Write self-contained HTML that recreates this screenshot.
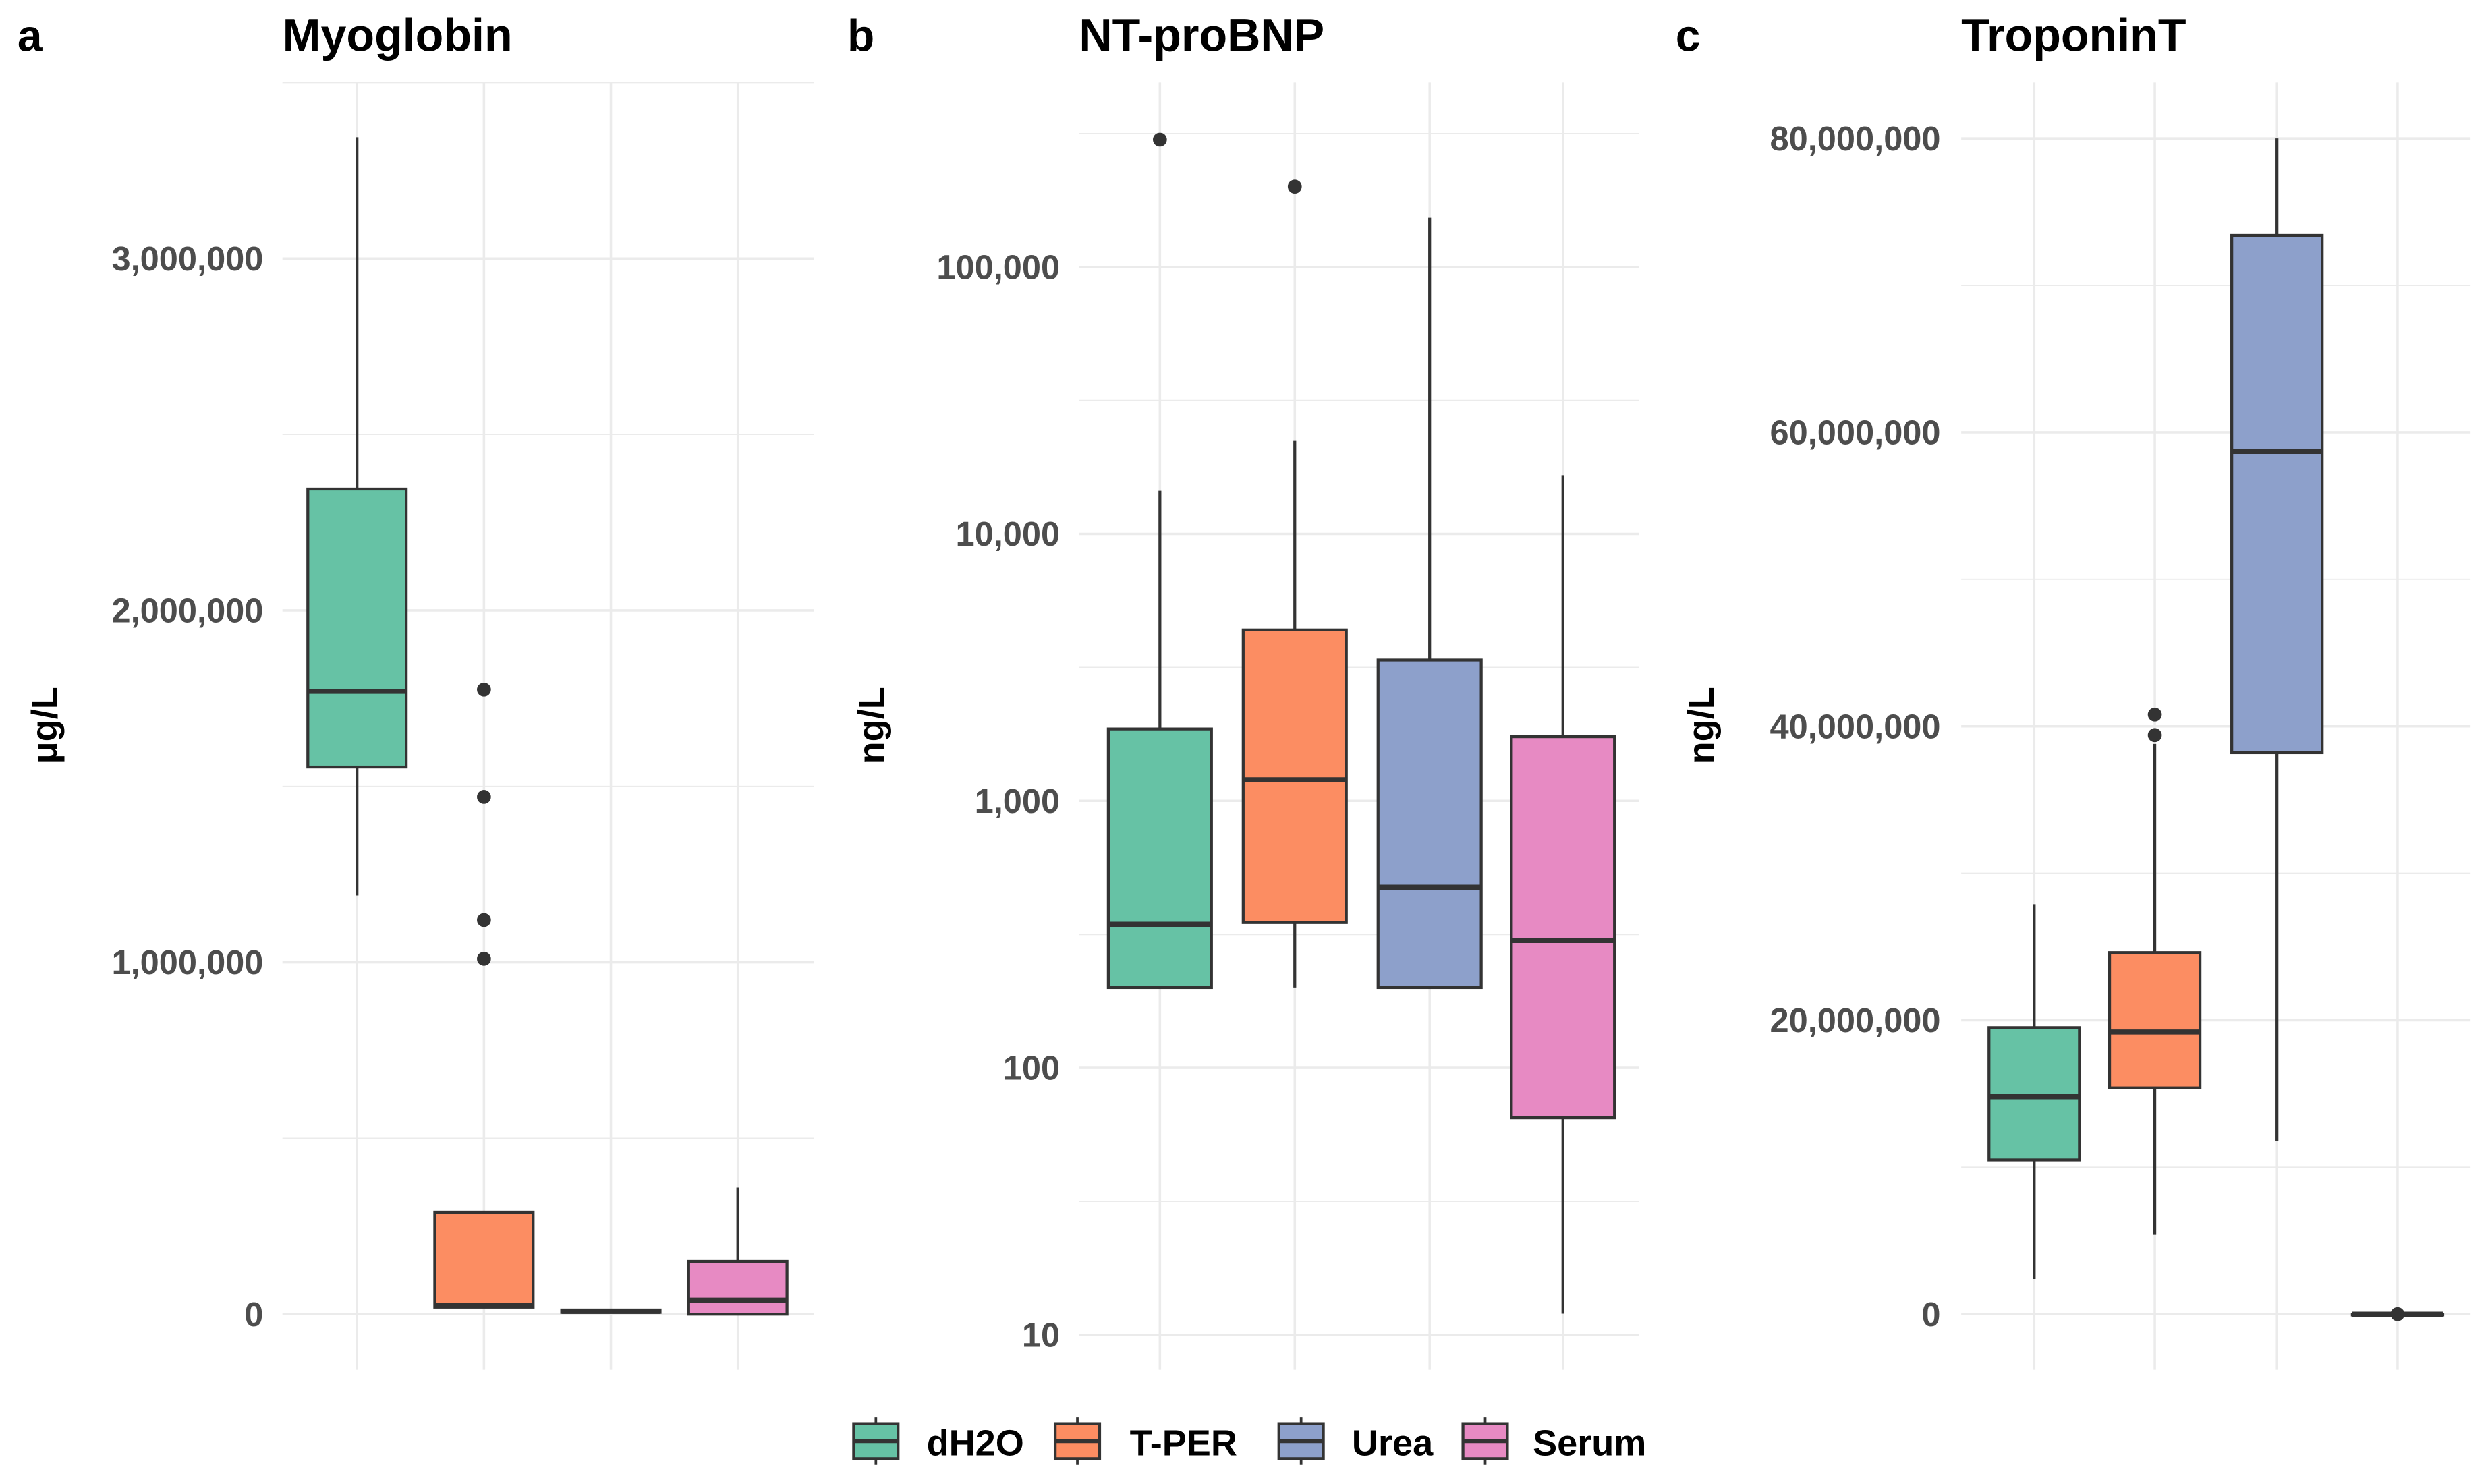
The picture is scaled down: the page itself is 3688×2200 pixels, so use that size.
<!DOCTYPE html>
<html><head><meta charset="utf-8"><style>
html,body{margin:0;padding:0;background:#fff;}
svg{display:block;font-family:"Liberation Sans",sans-serif;}
</style></head><body>
<svg id="fig" width="3688" height="2200" viewBox="0 0 1568 935" preserveAspectRatio="none" xmlns="http://www.w3.org/2000/svg"></svg>
<script>
const groups = ["dH2O","T-PER","Urea","Serum"];
const colors = ["#66c2a5","#fc8d62","#8da0cb","#e78ac3"];
// Panel a: Myoglobin (ug/L)
const myoLow = [1190000, 20000, 5000, 0];
const myoQ1 = [1555000, 20000, 5000, 0];
const myoMed = [1770000, 25000, 8000, 40000];
const myoQ3 = [2345000, 290000, 12000, 150000];
const myoHigh = [3345000, 290000, 12000, 360000];
const myoOut = [[], [1775000, 1470000, 1120000, 1010000], [], []];
const myoTicks = [0, 1000000, 2000000, 3000000];
const myoTickLabels = ["0","1,000,000","2,000,000","3,000,000"];
const myoMinor = [500000, 1500000, 2500000, 3500000];
// Panel b: NT-proBNP (ng/L, log)
const bnpLow = [200, 200, 200, 12];
const bnpQ1 = [200, 350, 200, 65];
const bnpMed = [345, 1200, 475, 300];
const bnpQ3 = [1860, 4370, 3370, 1740];
const bnpHigh = [14500, 22300, 153000, 16600];
const bnpOut = [[300000], [200000], [], []];
const bnpTicks = [10, 100, 1000, 10000, 100000];
const bnpTickLabels = ["10","100","1,000","10,000","100,000"];
const bnpMinor = [31.6, 316, 3162, 31623, 316228];
// Panel c: TroponinT (ng/L)
const tntLow = [2400000, 5400000, 11800000, 0];
const tntQ1 = [10500000, 15400000, 38200000, 0];
const tntMed = [14800000, 19200000, 58700000, 0];
const tntQ3 = [19500000, 24600000, 73400000, 0];
const tntHigh = [27900000, 38800000, 80000000, 0];
const tntOut = [[], [40800000, 39400000], [], [0]];
const tntTicks = [0, 20000000, 40000000, 60000000, 80000000];
const tntTickLabels = ["0","20,000,000","40,000,000","60,000,000","80,000,000"];
const tntMinor = [10000000, 30000000, 50000000, 70000000];

const NS = "http://www.w3.org/2000/svg";
const svg = document.getElementById("fig");
function mk(tag, attrs, parent, name, text) {
  const e = document.createElementNS(NS, tag);
  for (const k in attrs) e.setAttribute(k, attrs[k]);
  
  
  if (text !== undefined) e.textContent = text;
  (parent || svg).appendChild(e);
  return e;
}

function panel(cfg) {
  const g = mk("g", {}, svg, cfg.name);
  const y = cfg.y;
  cfg.minor.forEach(v => {
    mk("line", {x1: cfg.x0, x2: cfg.x1, y1: y(v), y2: y(v), stroke: "#ebebeb", "stroke-width": 0.8}, g, "minor-gridline");
  });
  cfg.ticks.forEach((v, i) => {
    mk("line", {x1: cfg.x0, x2: cfg.x1, y1: y(v), y2: y(v), stroke: "#ebebeb", "stroke-width": 1.5}, g, "major-gridline");
    mk("text", {x: cfg.labelX, y: y(v) + 7.5, "text-anchor": "end", "font-size": 21.5, "font-weight": "bold", fill: "#4d4d4d"}, g, "y-tick-label", cfg.tickLabels[i]);
  });
  cfg.cx.forEach(cx => {
    mk("line", {x1: cx, x2: cx, y1: 52, y2: 863, stroke: "#ebebeb", "stroke-width": 1.5}, g, "x-gridline");
  });
  const hw = cfg.bw / 2;
  groups.forEach((grp, i) => {
    const cx = cfg.cx[i];
    const bg = mk("g", {}, g, "box-" + grp.toLowerCase());
    mk("line", {x1: cx, x2: cx, y1: y(cfg.q3[i]), y2: y(cfg.hi[i]), stroke: "#333", "stroke-width": 1.8}, bg, "upper-whisker");
    mk("line", {x1: cx, x2: cx, y1: y(cfg.q1[i]), y2: y(cfg.lo[i]), stroke: "#333", "stroke-width": 1.8}, bg, "lower-whisker");
    const top = y(cfg.q3[i]), bot = y(cfg.q1[i]);
    mk("rect", {x: cx - hw, y: top, width: cfg.bw, height: Math.max(bot - top, 0.5), fill: colors[i], stroke: "#333", "stroke-width": 1.8}, bg, "box-body");
    mk("line", {x1: cx - hw, x2: cx + hw, y1: y(cfg.med[i]), y2: y(cfg.med[i]), stroke: "#333", "stroke-width": 3.2}, bg, "median-line");
    cfg.out[i].forEach(v => {
      mk("circle", {cx: cx, cy: y(v), r: 4.4, fill: "#333"}, bg, "outlier-point");
    });
  });
  mk("text", {x: cfg.x0, y: 32, "font-size": 29, "font-weight": "bold", fill: "#000"}, g, "panel-title", cfg.title);
  mk("text", {x: cfg.letterX, y: 32, "font-size": 28, "font-weight": "bold", fill: "#000"}, g, "panel-letter", cfg.letter);
  mk("text", {x: 0, y: 0, transform: "translate(" + cfg.ylabX + ",457) rotate(-90)", "text-anchor": "middle", "font-size": 23, "font-weight": "bold", fill: "#000"}, g, "y-axis-title", cfg.ylab);
}

panel({name: "panel-myoglobin", title: "Myoglobin", letter: "a", letterX: 11, ylab: "μg/L", ylabX: 36,
  x0: 178, x1: 513, labelX: 166, cx: [225, 305, 385, 465], bw: 62,
  y: v => 828 - v / 1000000 * 221.7,
  ticks: myoTicks, tickLabels: myoTickLabels, minor: myoMinor,
  lo: myoLow, q1: myoQ1, med: myoMed, q3: myoQ3, hi: myoHigh, out: myoOut});
panel({name: "panel-nt-probnp", title: "NT-proBNP", letter: "b", letterX: 534, ylab: "ng/L", ylabX: 557,
  x0: 680, x1: 1033, labelX: 668, cx: [731, 816, 901, 985], bw: 65,
  y: v => 841 - (Math.log10(v) - 1) * 168.2,
  ticks: bnpTicks, tickLabels: bnpTickLabels, minor: bnpMinor,
  lo: bnpLow, q1: bnpQ1, med: bnpMed, q3: bnpQ3, hi: bnpHigh, out: bnpOut});
panel({name: "panel-troponint", title: "TroponinT", letter: "c", letterX: 1056, ylab: "ng/L", ylabX: 1080,
  x0: 1236, x1: 1557, labelX: 1223, cx: [1282, 1358, 1435, 1511], bw: 57,
  y: v => 828 - v / 20000000 * 185.2,
  ticks: tntTicks, tickLabels: tntTickLabels, minor: tntMinor,
  lo: tntLow, q1: tntQ1, med: tntMed, q3: tntQ3, hi: tntHigh, out: tntOut});

// legend
const legX = [538, 665, 806, 922];
const legTX = [584, 712, 852, 966];
const lg = mk("g", {}, svg, "legend");
groups.forEach((grp, i) => {
  const e = mk("g", {}, lg, "legend-entry");
  mk("line", {x1: legX[i] + 14, x2: legX[i] + 14, y1: 893, y2: 923, stroke: "#333", "stroke-width": 1.6}, e, "legend-key-whisker");
  mk("rect", {x: legX[i], y: 897, width: 28, height: 22, fill: colors[i], stroke: "#333", "stroke-width": 1.8}, e, "legend-key");
  mk("line", {x1: legX[i], x2: legX[i] + 28, y1: 908, y2: 908, stroke: "#333", "stroke-width": 2.4}, e, "legend-key-median");
  mk("text", {x: legTX[i], y: 917, "font-size": 23, "font-weight": "bold", fill: "#000"}, e, "legend-label", grp);
});
</script>
</body></html>
